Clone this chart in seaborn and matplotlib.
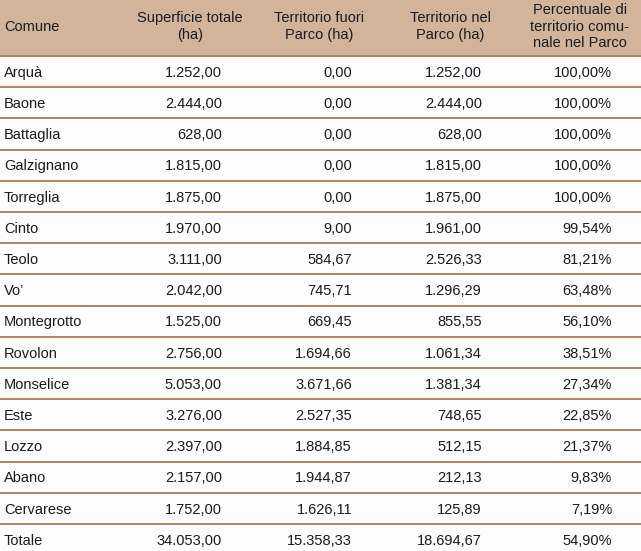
import matplotlib
matplotlib.use("Agg")
import matplotlib.pyplot as plt
import seaborn as sns

# ---- data ----
comuni = ["Arquà", "Baone", "Battaglia", "Galzignano", "Torreglia", "Cinto", "Teolo",
          "Vo’", "Montegrotto", "Rovolon", "Monselice", "Este", "Lozzo", "Abano",
          "Cervarese", "Totale"]
superficie = [1252.00, 2444.00, 628.00, 1815.00, 1875.00, 1970.00, 3111.00, 2042.00,
              1525.00, 2756.00, 5053.00, 3276.00, 2397.00, 2157.00, 1752.00, 34053.00]
fuori = [0.00, 0.00, 0.00, 0.00, 0.00, 9.00, 584.67, 745.71, 669.45, 1694.66,
         3671.66, 2527.35, 1884.85, 1944.87, 1626.11, 15358.33]
nel = [1252.00, 2444.00, 628.00, 1815.00, 1875.00, 1961.00, 2526.33, 1296.29,
       855.55, 1061.34, 1381.34, 748.65, 512.15, 212.13, 125.89, 18694.67]
percentuale = [100.00, 100.00, 100.00, 100.00, 100.00, 99.54, 81.21, 63.48, 56.10,
               38.51, 27.34, 22.85, 21.37, 9.83, 7.19, 54.90]
headers = [["Comune"], ["Superficie totale", "(ha)"], ["Territorio fuori", "Parco (ha)"],
           ["Territorio nel", "Parco (ha)"],
           ["Percentuale di", "territorio comu-", "nale nel Parco"]]

# ---- style ----
sns.set_theme(style="white")
plt.rcParams["font.family"] = ["Liberation Sans", "DejaVu Sans"]
FS = 10.5

HEADER_BG = "#D2B49A"
LINE = "#B5835C"
TXT = "#1A1A22"


def it_num(v, dec=2):
    s = f"{v:,.{dec}f}"
    return s.replace(",", "X").replace(".", ",").replace("X", ".")


fig = plt.figure(figsize=(6.41, 5.51), dpi=100)
fig.patch.set_facecolor("#FDFDFD")
ax = fig.add_axes([0, 0, 1, 1])
ax.set_xlim(0, 641)
ax.set_ylim(551, 0)
ax.axis("off")

header_h = 56
row_h = 31.2
ax.axhspan(0, header_h, color=HEADER_BG, lw=0)

# column anchors
hdr_x = [4, 190, 319, 450, 580]
val_x = [4, 222, 352, 482, 612]
HDR_BASE = 30.6
HDR_STEP = 16.5

for j, lines in enumerate(headers):
    n = len(lines)
    for k, line in enumerate(lines):
        yb = HDR_BASE + (k - (n - 1) / 2) * HDR_STEP
        ax.text(hdr_x[j], yb, line, ha="left" if j == 0 else "center", va="baseline",
                color=TXT, fontsize=FS)

ax.axhline(header_h, color=LINE, lw=1.4)
cols = [superficie, fuori, nel]
for i, name in enumerate(comuni):
    yb = header_h + row_h * (i + 0.5) + 5.2
    ax.text(val_x[0], yb, name, ha="left", va="baseline", color=TXT, fontsize=FS)
    for k, c in enumerate(cols):
        ax.text(val_x[k + 1], yb, it_num(c[i]), ha="right", va="baseline", color=TXT,
                fontsize=FS)
    ax.text(val_x[4], yb, it_num(percentuale[i]) + "%", ha="right", va="baseline",
            color=TXT, fontsize=FS)
    if i < len(comuni) - 1:
        ax.axhline(header_h + row_h * (i + 1), color=LINE, lw=1.4)

fig.savefig("out.png", dpi=100, facecolor=fig.get_facecolor())
